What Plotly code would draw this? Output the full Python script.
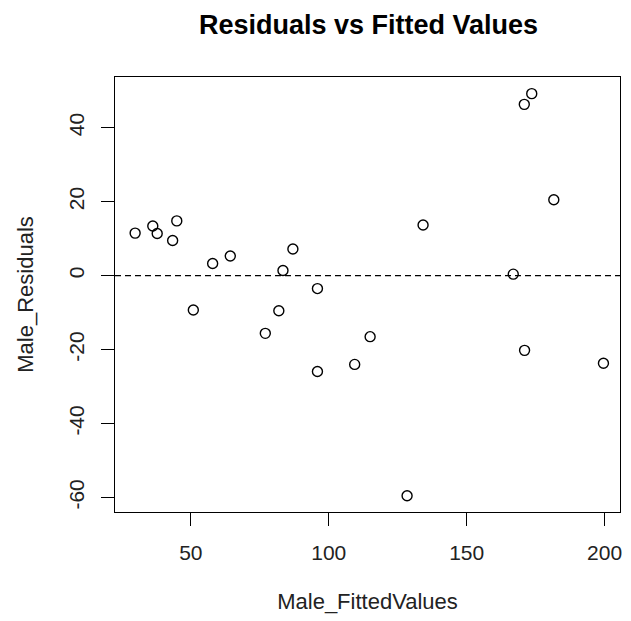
import plotly.graph_objects as go

fitted = [29.8, 36.2, 37.8, 43.4, 44.9, 50.9, 57.9, 64.3, 77.0, 81.9, 83.4, 87.0,
          95.9, 95.9, 109.4, 115.0, 128.4, 134.2, 166.9, 170.9, 173.6, 181.6, 171.0, 199.6]
residuals = [11.5, 13.4, 11.4, 9.5, 14.8, -9.3, 3.3, 5.3, -15.6, -9.5, 1.4, 7.2,
             -3.5, -25.9, -24.0, -16.5, -59.5, 13.7, 0.4, 46.3, 49.2, 20.5, -20.2, -23.7]
x_ticks = [50, 100, 150, 200]
y_ticks = [-60, -40, -20, 0, 20, 40]

FONT = "Liberation Sans, Arial, sans-serif"

fig = go.Figure()
fig.add_trace(go.Scatter(
    x=fitted, y=residuals, mode="markers",
    marker=dict(symbol="circle-open", size=10, color="black", line=dict(width=1.4, color="black")),
    showlegend=False, hoverinfo="x+y"))

fig.add_shape(type="line", xref="paper", yref="y", x0=0, x1=1, y0=0, y1=0,
              line=dict(color="black", width=1.3, dash="6px,4px"))

fig.update_layout(
    width=631, height=621,
    margin=dict(l=115, r=9, t=77, b=109),
    paper_bgcolor="white", plot_bgcolor="white",
    font=dict(family=FONT, size=21, color="#222222"),
    title=dict(text="<b>Residuals vs Fitted Values</b>", x=(115 + 622) / 2 / 631, xanchor="center",
               y=1 - 25 / 621, yanchor="middle", yref="container",
               font=dict(family=FONT, size=27, color="black")),
    xaxis=dict(range=[22.5, 205.6], tickvals=x_ticks, ticktext=[str(v) for v in x_ticks],
               showgrid=False, zeroline=False, showline=True, mirror=True, linecolor="black", linewidth=1.3,
               ticks="outside", ticklen=13, tickwidth=1.3, tickcolor="black", ticklabelstandoff=9,
               title=dict(text="Male_FittedValues", standoff=30, font=dict(size=22))),
    yaxis=dict(range=[-63.9, 53.7], tickvals=y_ticks, ticktext=[str(v) for v in y_ticks],
               showgrid=False, zeroline=False, showline=True, mirror=True, linecolor="black", linewidth=1.3,
               ticks="outside", ticklen=13, tickwidth=1.3, tickcolor="black", tickangle=-90,
               ticklabelstandoff=8,
               title=dict(text="Male_Residuals", standoff=25, font=dict(size=22))),
)

fig.write_html("out.html")
